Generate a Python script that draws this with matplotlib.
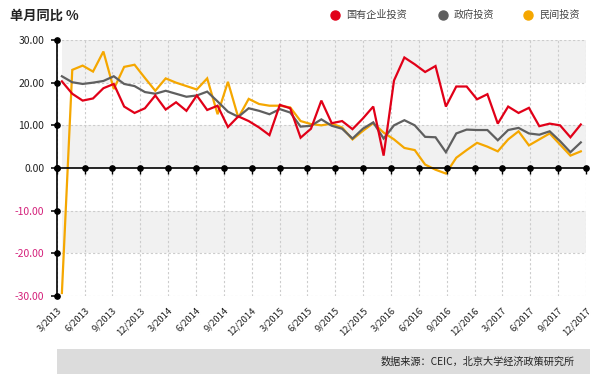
import numpy as np
import matplotlib.pyplot as plt
from matplotlib.lines import Line2D
from matplotlib.patches import Rectangle

plt.rcParams['font.family'] = ['Noto Sans CJK SC', 'DejaVu Sans']

# monthly yoy growth, %, 3/2013 .. 12/2017
soe = [20.3, 17.4, 15.8, 16.3, 18.7, 19.7, 14.4, 12.9, 14.0, 17.0,
       13.7, 15.4, 13.4, 17.0, 13.6, 14.6, 9.6, 12.1, 11.0, 9.5,
       7.7, 14.8, 14.0, 7.1, 9.2, 15.8, 10.5, 11.0, 9.1, 11.6,
       14.4, 2.9, 20.5, 25.9, 24.3, 22.5, 23.9, 14.4, 19.1, 19.1,
       16.1, 17.3, 10.4, 14.4, 12.9, 14.1, 9.8, 10.4, 10.0, 7.2, 10.2]
gov = [21.5, 20.1, 19.7, 20.0, 20.4, 21.5, 19.7, 19.2, 17.8, 17.4,
       18.1, 17.4, 16.7, 17.0, 17.9, 15.6, 13.2, 12.0, 14.0, 13.4,
       12.6, 13.8, 13.0, 9.7, 9.9, 11.4, 9.9, 9.2, 6.9, 9.2,
       10.7, 6.9, 10.0, 11.2, 10.0, 7.3, 7.2, 3.7, 8.1, 9.0,
       8.9, 8.9, 6.5, 8.9, 9.4, 8.1, 7.8, 8.6, 6.3, 3.7, 6.0]
private = [-29.3, 23.0, 24.0, 22.6, 27.3, 18.5, 23.7, 24.2, 21.1, 18.1,
           21.0, 20.0, 19.2, 18.4, 21.0, 12.6, 20.2, 11.8, 16.2, 15.0,
           14.6, 14.6, 14.2, 11.0, 10.3, 10.0, 10.4, 9.5, 6.7, 8.7,
           10.5, 8.3, 6.7, 4.7, 4.2, 0.8, -0.4, -1.3, 2.4, 4.2,
           5.9, 5.0, 3.9, 6.7, 8.6, 5.3, 6.7, 8.1, 5.5, 2.9, 3.9]

series_names = ['国有企业投资', '政府投资', '民间投资']
colors = ['#e10018', '#5f5f5f', '#f5a700']

tick_labels = ['3/2013', '6/2013', '9/2013', '12/2013', '3/2014', '6/2014',
               '9/2014', '12/2014', '3/2015', '6/2015', '9/2015', '12/2015',
               '3/2016', '6/2016', '9/2016', '12/2016', '3/2017', '6/2017',
               '9/2017', '12/2017']
yticks = [-30, -20, -10, 0, 10, 20, 30]

W, H = 600, 384
fig = plt.figure(figsize=(W / 100, H / 100), dpi=100)
ax = fig.add_axes([56.7 / W, 1 - 296 / H, (586 - 56.7) / W, 256 / H])

x = np.arange(len(soe))
xlo, xhi = -0.5, len(soe) - 0.5
ax.set_xlim(xlo, xhi)
ax.set_ylim(-30, 30)

# alternating bands
for lo in [-20, 0, 20]:
    ax.axhspan(lo, lo + 10, xmin=0.01, xmax=1, color='#f1f1f1', zorder=0, lw=0)

xt = np.linspace(xlo, xhi, len(tick_labels))
for v in yticks:
    if v != 0:
        ax.axhline(v, color='#cccccc', lw=0.8, ls=(0, (2, 2)), zorder=1)
for t in xt:
    ax.axvline(t, color='#cccccc', lw=0.8, ls=(0, (2, 2)), zorder=1)

for vals, c in zip([private, gov, soe], [colors[2], colors[1], colors[0]]):
    ax.plot(x, vals, color=c, lw=1.6, zorder=3, solid_joinstyle='miter')

# zero line with dots
ax.plot([xlo, xhi], [0, 0], color='black', lw=1.2, zorder=4, clip_on=False)
ax.plot(xt, np.zeros(len(xt)), 'o', color='black', ms=3.8, zorder=5, clip_on=False)
ax.plot(xt, np.zeros(len(xt)), ls='none', marker=3, color='black', ms=4, mew=1, zorder=5, clip_on=False)
ax.plot(np.full(len(yticks), xlo), yticks, 'o', color='black', ms=3.8, zorder=5, clip_on=False)

for s in ['top', 'right', 'bottom']:
    ax.spines[s].set_visible(False)
ax.spines['left'].set_color('black')
ax.spines['left'].set_linewidth(1.2)
ax.spines['left'].set_zorder(4)

ax.set_yticks(yticks)
ax.set_yticklabels([f'{v:.2f}' for v in yticks], fontsize=7.5)
for lab, v in zip(ax.get_yticklabels(), yticks):
    lab.set_color('#d4207a' if v < 0 else '#222222')
ax.tick_params(axis='y', length=4, width=1.1, color='black', pad=5)

ax.set_xticks(xt)
ax.set_xticklabels(tick_labels, fontsize=6.8, rotation=45, ha='right',
                   rotation_mode='anchor', color='#222222')
ax.tick_params(axis='x', length=0, pad=7)

# title
fig.text(10 / W, 1 - 16 / H, '单月同比 %', fontsize=9.5, fontweight='bold',
         color='#222222', va='center', ha='left')

# legend
leg_x = [335, 443, 528]
for px, name, c in zip(leg_x, series_names, colors):
    fig.add_artist(Line2D([px / W], [1 - 15 / H], marker='o', ms=6.5, color=c,
                          ls='none', transform=fig.transFigure))
    fig.text((px + 11) / W, 1 - 15 / H, name, fontsize=7.3, color='#444444',
             va='center', ha='left')

# source box
fig.add_artist(Rectangle((57 / W, 1 - 374 / H), (590 - 57) / W, 25 / H,
                         transform=fig.transFigure, color='#dcdcdc', lw=0))
fig.text(575 / W, 1 - 361.5 / H, '数据来源：CEIC，北京大学经济政策研究所',
         fontsize=7.3, color='#222222', va='center', ha='right')

fig.savefig('out.png', dpi=100)
